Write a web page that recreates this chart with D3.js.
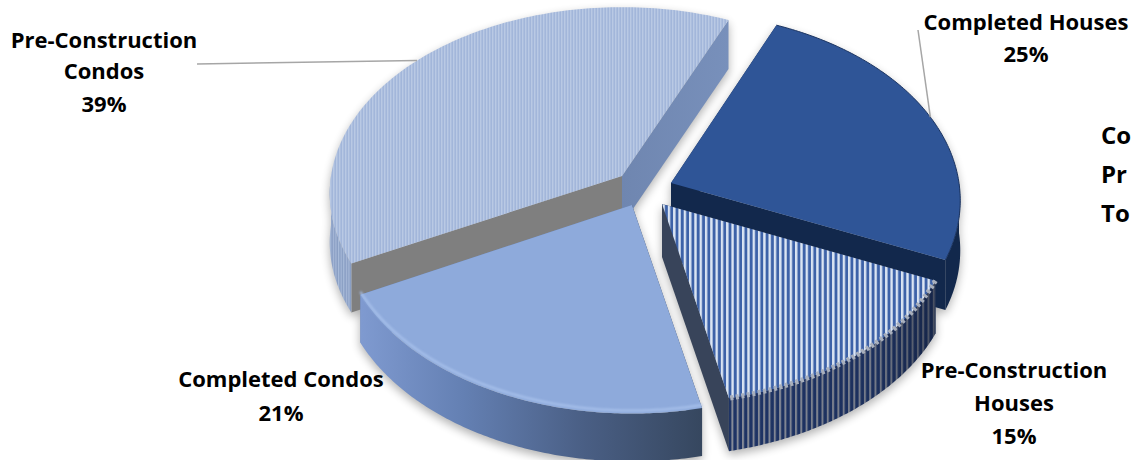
<!DOCTYPE html>
<html>
<head>
<meta charset="utf-8">
<script src="https://cdn.jsdelivr.net/npm/d3@7"></script>
<style>
  html, body { margin: 0; padding: 0; background: #fff; overflow: hidden; }
  text { font-family: "Open Sans", Lato, sans-serif; font-weight: 700; fill: #000; }
</style>
</head>
<body>
<svg id="chart" width="1132" height="460"></svg>
<script>
// Sales mix, clockwise from the upper right
const categories = ["Completed Houses", "Pre-Construction Houses", "Completed Condos", "Pre-Construction Condos"];
const shares = [25, 15, 21, 39];

// Per-wedge placement in slice order: exploded apex, radius, squash, perspective, rim height
const apexes = [[671, 183], [662, 204], [632, 205], [622, 176]];
const radii = [288, 292, 292, 291];
const squashes = [0.648, 0.648, 0.648, 0.634];
const perspectives = [0.0927, 0.05, 0.0927, 0.0927];
const rimHeights = [50, 53, 48, 49];
const startDeg = 23.4;

const svg = d3.select("#chart");
const defs = svg.append("defs");

function stripes(id, width, bands) {
  const p = defs.append("pattern").attr("id", id).attr("patternUnits", "userSpaceOnUse")
    .attr("width", width).attr("height", 10);
  bands.forEach(([x, w, c]) => p.append("rect").attr("x", x).attr("y", 0).attr("width", w).attr("height", 10).attr("fill", c));
}
stripes("condoTop", 3, [[0, 3, "#b9c9e4"], [1.6, 1.1, "#98aed6"]]);
stripes("condoRim", 2.6, [[0, 2.6, "#a9bbda"], [1.3, 1.1, "#7f95bd"]]);
stripes("houseTop", 5.3, [[0, 5.3, "#dbe5f3"], [2.4, 2.9, "#3d62a8"]]);
stripes("houseRim", 5.3, [[0, 5.3, "#8d929e"], [2.0, 3.3, "#1f3568"]]);

function linear(id, stops) {
  const g = defs.append("linearGradient").attr("id", id).attr("gradientUnits", "userSpaceOnUse");
  stops.forEach(([o, c, a]) => g.append("stop").attr("offset", o).attr("stop-color", c).attr("stop-opacity", a === undefined ? 1 : a));
  return g;
}

defs.append("filter").attr("id", "softShadow").attr("x", "-10%").attr("y", "-10%").attr("width", "120%").attr("height", "120%")
  .append("feGaussianBlur").attr("stdDeviation", 5);
defs.append("filter").attr("id", "softEdge").attr("x", "-10%").attr("y", "-10%").attr("width", "120%").attr("height", "120%")
  .append("feGaussianBlur").attr("stdDeviation", 1.3);

const pie = d3.pie().sort(null)
  .startAngle(startDeg * Math.PI / 180)
  .endAngle((startDeg + 360) * Math.PI / 180);
const arcs = pie(shares);

function project(i, angle, z) {
  const u = Math.sin(angle), v = -Math.cos(angle);
  const w = 1 / (1 - perspectives[i] * v);
  return [
    apexes[i][0] + radii[i] * u * w,
    apexes[i][1] + radii[i] * squashes[i] * v * w + z
  ];
}
const rimPoints = (i, a0, a1, z) => d3.range(0, 121).map(t => project(i, a0 + (a1 - a0) * t / 120, z));
const closed = d3.line().curve(d3.curveLinearClosed);
const open = d3.line();

const topFace = (i, a) => closed([[apexes[i][0], apexes[i][1]], ...rimPoints(i, a.startAngle, a.endAngle, 0)]);
// Only the near half of the rim faces the viewer
const outerWall = (i, a) => {
  const a0 = Math.max(a.startAngle, Math.PI / 2), a1 = Math.min(a.endAngle, Math.PI * 1.5);
  return closed([...rimPoints(i, a0, a1, 0), ...rimPoints(i, a1, a0, rimHeights[i])]);
};
const radialWall = (i, angle) => closed([
  [apexes[i][0], apexes[i][1]],
  project(i, angle, 0),
  project(i, angle, rimHeights[i]),
  [apexes[i][0], apexes[i][1] + rimHeights[i]]
]);

// Soft ground shadow under every wedge
const shadow = svg.append("g").attr("filter", "url(#softShadow)").attr("fill", "#000").attr("opacity", 0.3)
  .attr("transform", "translate(0,4)");
arcs.forEach((a, i) => {
  shadow.append("path").attr("d", outerWall(i, a));
  shadow.append("path").attr("d", topFace(i, a));
  shadow.append("path").attr("d", radialWall(i, a.startAngle));
  shadow.append("path").attr("d", radialWall(i, a.endAngle));
});

// Gradient shading along the front walls
const [hi0, pc, cc] = [0, 1, 2];
const ccLeft = project(cc, arcs[cc].endAngle, 0)[0], ccRight = project(cc, arcs[cc].startAngle, 0)[0];
linear("ccWall", [[0, "#7f9ad0"], [0.3, "#6480b3"], [0.65, "#4a5f85"], [1, "#36475f"]])
  .attr("x1", ccLeft).attr("x2", ccRight).attr("y1", 0).attr("y2", 0);
const pcLeft = project(pc, arcs[pc].endAngle, 0)[0], pcRight = project(pc, arcs[pc].startAngle, 0)[0];
linear("pcShade", [[0, "#101a30", 0.05], [0.7, "#101a30", 0.2], [1, "#101a30", 0.55]])
  .attr("x1", pcLeft).attr("x2", pcRight).attr("y1", 0).attr("y2", 0);
const condoEnd = project(3, arcs[3].endAngle, 0);
linear("condoEdge", [[0, "#6f86b0"], [1, "#7890bb"]])
  .attr("x1", apexes[3][0]).attr("x2", condoEnd[0]).attr("y1", 0).attr("y2", 0);

const style = [
  { top: "#2f5597", rim: "#12284c", startWall: "#12284c", endWall: "#12284c" },
  { top: "url(#houseTop)", rim: "url(#houseRim)", startWall: "#38445a", endWall: "#38445a" },
  { top: "#8eaadb", rim: "url(#ccWall)", startWall: "#36475f", endWall: "#6480b3" },
  { top: "url(#condoTop)", rim: "url(#condoRim)", startWall: "#7f7f7f", endWall: "url(#condoEdge)" }
];

// Painter's order: back condos first, the front wedges last
[3, 0, 2, 1].forEach(i => {
  const a = arcs[i], s = style[i];
  const g = svg.append("g").attr("class", "wedge");
  g.append("path").attr("d", radialWall(i, a.startAngle)).attr("fill", s.startWall);
  g.append("path").attr("d", radialWall(i, a.endAngle)).attr("fill", s.endWall);
  g.append("path").attr("d", outerWall(i, a)).attr("fill", s.rim);
  if (i === pc) g.append("path").attr("d", outerWall(i, a)).attr("fill", "url(#pcShade)");
  g.append("path").attr("d", topFace(i, a)).attr("fill", s.top);

  const rimLine = open(rimPoints(i, a.startAngle, a.endAngle, 0));
  if (i === pc) {
    // Scalloped highlight where the striped top rolls over into the wall
    g.append("path").attr("d", rimLine).attr("fill", "none").attr("stroke", "#a9b0bd")
      .attr("stroke-width", 5).attr("stroke-dasharray", "3 2.6");
  } else if (i === cc) {
    // Bevel on the rounded front edge
    g.append("path").attr("d", open(rimPoints(i, a.startAngle, a.endAngle, -3))).attr("fill", "none")
      .attr("stroke", "#a9c2ec").attr("stroke-width", 2).attr("filter", "url(#softEdge)");
  } else if (i === hi0) {
    g.append("path").attr("d", rimLine).attr("fill", "none").attr("stroke", "#1c3562").attr("stroke-width", 1);
  }
});

// Leader lines run from a label to the rim of its wedge
const leaders = [
  { slice: 3, deg: 311.6, from: [197, 64] },
  { slice: 0, deg: 68.6, from: [918, 30] }
];
svg.append("g").selectAll("path").data(leaders).join("path")
  .attr("d", d => open([d.from, project(d.slice, d.deg * Math.PI / 180, 0)]))
  .attr("fill", "none").attr("stroke", "#a6a6a6").attr("stroke-width", 1.5);

// Data labels
const fmt = i => shares[i] + "%";
const labels = [
  { x: 1026, lines: [["Completed Houses", 30], [fmt(0), 62]] },
  { x: 1014, lines: [["Pre-Construction", 378], ["Houses", 411], [fmt(1), 444]] },
  { x: 281, lines: [["Completed Condos", 387], [fmt(2), 421]] },
  { x: 104, lines: [["Pre-Construction", 48], ["Condos", 79], [fmt(3), 112]] }
];
labels.forEach(l => {
  l.lines.forEach(([t, y]) => {
    svg.append("text").attr("x", l.x).attr("y", y).attr("text-anchor", "middle")
      .attr("font-size", 22).text(t);
  });
});

// Side note at the right edge of the page
const sideNote = [["Co", 144], ["Pr", 183], ["To", 222]];
sideNote.forEach(([t, y]) => {
  svg.append("text").attr("x", 1101).attr("y", y).attr("font-size", 24).text(t);
});
</script>
</body>
</html>
